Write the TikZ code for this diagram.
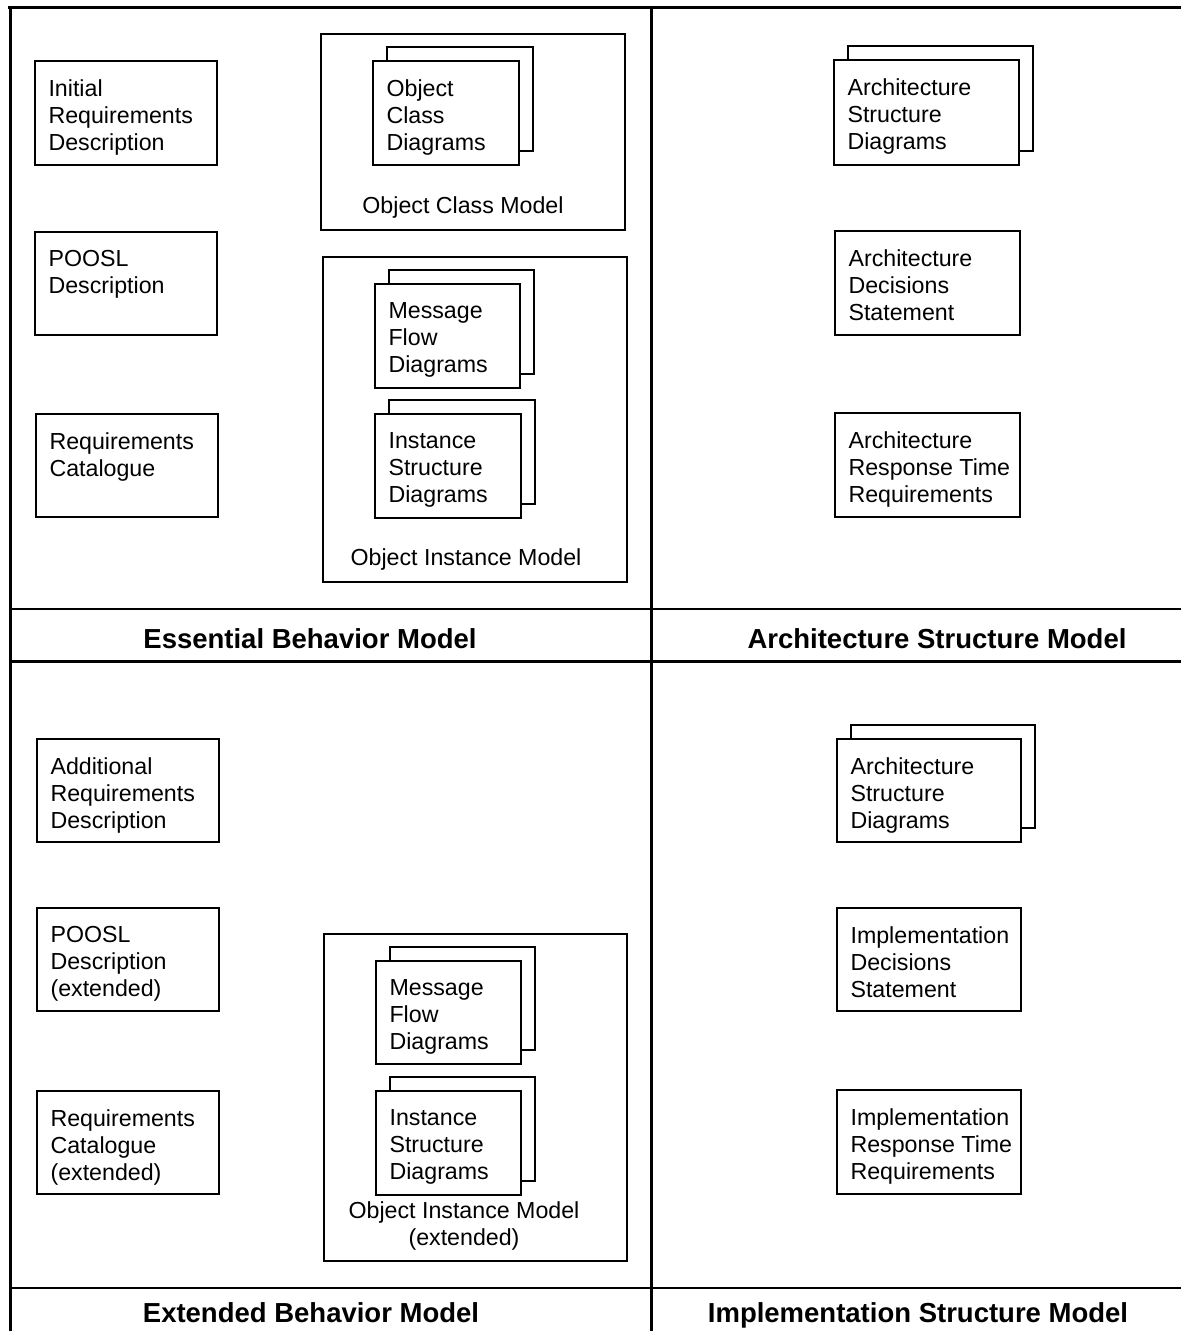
\documentclass[tikz,border=0pt]{standalone}
\usepackage{fontspec}
\setmainfont{Liberation Sans}
\usetikzlibrary{fit}

% plain document box: name, x1, y1, x2, y2, text
\newcommand\plainbox[6]{%
  \node[box, fit={(#2,#3) (#4,#5)}] (#1) {};
  \node[txt] (#1-t) at ([xshift=14pt,yshift=-19pt]#1.north west) {#6};
}
% stacked document box (a second sheet behind, offset up and right)
\newcommand\stackbox[6]{%
  \node[box, fit={(#2+14,#3-14) (#4+14,#5-14)}] (#1-back) {};
  \node[box, fit={(#2,#3) (#4,#5)}] (#1) {};
  \node[txt] (#1-t) at ([xshift=14pt,yshift=-19pt]#1.north west) {#6};
}

\begin{document}
\begin{tikzpicture}[x=1pt,y=-1pt,
  frame/.style={line width=3pt},
  rule/.style={line width=1.4pt},
  box/.style={draw, line width=1.3pt, inner sep=0pt, fill=white},
  txt/.style={anchor=north west, align=left, inner sep=0pt,
    font=\fontsize{23.2}{27}\selectfont},
  modellabel/.style={anchor=base, inner sep=0pt, font=\fontsize{23.2}{27}\selectfont},
  title/.style={anchor=base, inner sep=0pt,
    font=\bfseries\fontsize{27.5}{32}\selectfont}]

\useasboundingbox (0,0) rectangle (1181,1331);

% ---- frame ----
\coordinate (ftl) at (8,7);
\coordinate (ftr) at (1181,7);
\coordinate (fl) at (10,7);
\coordinate (flb) at (10,1331);
\coordinate (fm) at (651,7);
\coordinate (fmb) at (651,1331);
\coordinate (s1l) at (10,609);
\coordinate (s1r) at (1181,609);
\coordinate (s2l) at (10,661);
\coordinate (s2r) at (1181,661);
\coordinate (s3l) at (10,1288);
\coordinate (s3r) at (1181,1288);

\draw[frame] (ftl) -- (ftr);
\draw[frame] (fl) -- (flb);
\draw[frame] (fm) -- (fmb);
\draw[rule] (s1l) -- (s1r);
\draw[frame] (s2l) -- (s2r);
\draw[rule] (s3l) -- (s3r);

% ---- Essential Behavior Model ----
\plainbox{ird}{35}{61}{217}{165}{Initial\\Requirements\\Description}
\plainbox{pd}{35}{232}{217}{335}{POOSL\\Description}
\plainbox{rc}{36}{414}{218}{517}{Requirements\\Catalogue}

\node[box, fit={(321,34) (625,230)}] (ocm) {};
\stackbox{ocd}{373}{61}{519}{165}{Object\\Class\\Diagrams}
\node[modellabel] (ocm-l) at (463,213) {Object Class Model};

\node[box, fit={(323,257) (627,582)}] (oim) {};
\stackbox{mfd}{375}{284}{520}{388}{Message\\Flow\\Diagrams}
\stackbox{isd}{375}{414}{521}{518}{Instance\\Structure\\Diagrams}
\node[modellabel] (oim-l) at (466,565) {Object Instance Model};

\node[title] (ebm) at (310,648) {Essential Behavior Model};

% ---- Architecture Structure Model ----
\stackbox{asd}{834}{60}{1019}{165}{Architecture\\Structure\\Diagrams}
\plainbox{ads}{835}{231}{1020}{335}{Architecture\\Decisions\\Statement}
\plainbox{art}{835}{413}{1020}{517}{Architecture\\Response Time\\Requirements}

\node[title] (asm) at (937,648) {Architecture Structure Model};

% ---- Extended Behavior Model ----
\plainbox{ard}{37}{739}{219}{842}{Additional\\Requirements\\Description}
\plainbox{pde}{37}{908}{219}{1011}{POOSL\\Description\\(extended)}
\plainbox{rce}{37}{1091}{219}{1194}{Requirements\\Catalogue\\(extended)}

\node[box, fit={(324,934) (627,1261)}] (oime) {};
\stackbox{mfde}{376}{961}{521}{1064}{Message\\Flow\\Diagrams}
\stackbox{isde}{376}{1091}{521}{1195}{Instance\\Structure\\Diagrams}
\node[modellabel, anchor=north, align=center] (oime-l) at (464,1201)
  {Object Instance Model\\(extended)};

\node[title] (xbm) at (311,1322) {Extended Behavior Model};

% ---- Implementation Structure Model ----
\stackbox{asde}{837}{739}{1021}{842}{Architecture\\Structure\\Diagrams}
\plainbox{ids}{837}{908}{1021}{1011}{Implementation\\Decisions\\Statement}
\plainbox{irt}{837}{1090}{1021}{1194}{Implementation\\Response Time\\Requirements}

\node[title] (ism) at (918,1322) {Implementation Structure Model};
\end{tikzpicture}
\end{document}
